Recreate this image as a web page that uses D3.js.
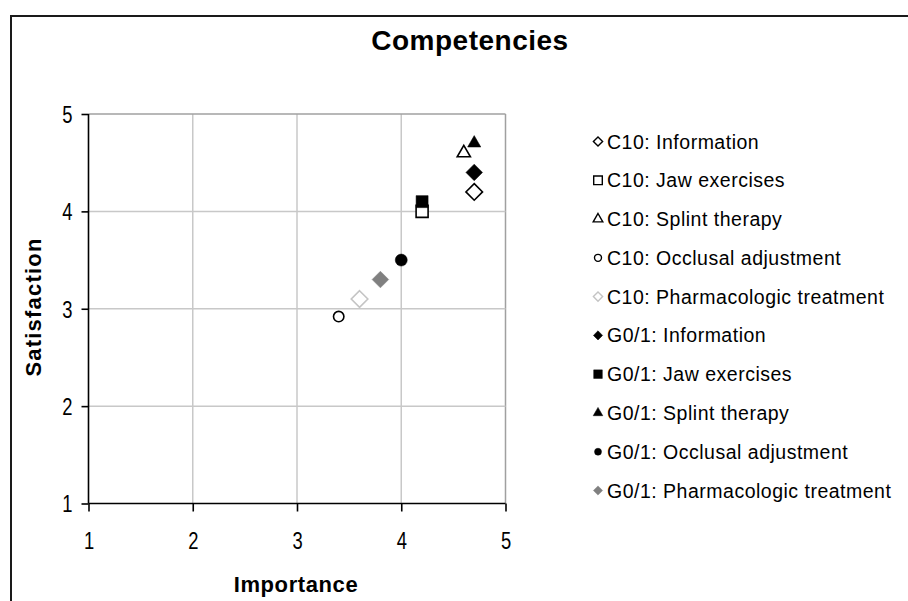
<!DOCTYPE html>
<html>
<head>
<meta charset="utf-8">
<script src="https://cdn.jsdelivr.net/npm/d3@7"></script>
<style>
  html, body { margin: 0; padding: 0; background: #fff; }
  svg { display: block; }
  text { font-family: "Liberation Sans", Arial, sans-serif; fill: #000; }
  .tick text { font-size: 23px; }
</style>
</head>
<body>
<svg id="chart" width="908" height="601"></svg>
<script>
// Importance vs. satisfaction ratings per treatment competency
const seriesNames = [
  "C10: Information",
  "C10: Jaw exercises",
  "C10: Splint therapy",
  "C10: Occlusal adjustment",
  "C10: Pharmacologic treatment",
  "G0/1: Information",
  "G0/1: Jaw exercises",
  "G0/1: Splint therapy",
  "G0/1: Occlusal adjustment",
  "G0/1: Pharmacologic treatment"
];
const importance   = [4.7, 4.2, 4.6, 3.4, 3.6, 4.7, 4.2, 4.7, 4.0, 3.8];
const satisfaction = [4.2, 4.0, 4.6, 2.92, 3.1, 4.4, 4.1, 4.7, 3.5, 3.3];
const xTicks = [1, 2, 3, 4, 5];
const yTicks = [1, 2, 3, 4, 5];

// marker style per series: shape, filled, colour
const markerShape = ["diamond", "square", "triangle", "circle", "diamond",
                     "diamond", "square", "triangle", "circle", "diamond"];
const markerFill  = [false, false, false, false, false, true, true, true, true, true];
const markerColor = ["#000", "#000", "#000", "#000", "#c4c4c4",
                     "#000", "#000", "#000", "#000", "#808080"];

const svg = d3.select("#chart");
svg.append("rect").attr("width", 908).attr("height", 601).attr("fill", "#fff");

// outer chart frame (runs past the right and bottom edges)
svg.append("path")
  .attr("d", "M11,640 L11,16 L960,16")
  .attr("fill", "none").attr("stroke", "#1a1a1a").attr("stroke-width", 2);

const plot = { left: 88.5, right: 505.5, top: 114, bottom: 503.5 };
const x = d3.scaleLinear().domain([1, 5]).range([plot.left, plot.right]);
const y = d3.scaleLinear().domain([1, 5]).range([plot.bottom, plot.top]);

// gridlines
const grid = svg.append("g");
grid.selectAll(".gx").data(xTicks.slice(1)).join("line")
  .attr("x1", d => x(d)).attr("x2", d => x(d))
  .attr("y1", plot.top).attr("y2", plot.bottom)
  .attr("stroke", d => d === 5 ? "#a0a0a0" : "#c8c8c8").attr("stroke-width", 1.5);
grid.selectAll(".gy").data(yTicks.slice(1)).join("line")
  .attr("x1", plot.left).attr("x2", plot.right)
  .attr("y1", d => y(d)).attr("y2", d => y(d))
  .attr("stroke", d => d === 5 ? "#a0a0a0" : "#c8c8c8").attr("stroke-width", 1.5);

// axes; tick digits are set tall and narrow
const squeeze = 0.8;
const xAxis = d3.axisBottom(x).tickValues(xTicks).tickSize(8).tickPadding(21).tickFormat(d3.format("d"));
const yAxis = d3.axisLeft(y).tickValues(yTicks).tickSize(7).tickPadding(13).tickFormat(d3.format("d"));

const gx = svg.append("g").attr("transform", `translate(0,${plot.bottom})`).call(xAxis);
const gy = svg.append("g").attr("transform", `translate(${plot.left},0)`).call(yAxis);
[gx, gy].forEach(g => {
  g.attr("font-size", 23).attr("font-family", "'Liberation Sans', Arial, sans-serif");
  g.select(".domain").attr("stroke", "#000").attr("stroke-width", 1.6);
  g.selectAll(".tick line").attr("stroke", "#000").attr("stroke-width", 1.6);
  g.selectAll(".tick text")
    .attr("font-size", 23).attr("fill", "#000")
    .attr("transform", `scale(${squeeze},1)`);
});
gy.selectAll(".tick text").attr("dy", "0.36em");
gy.select(".domain").attr("d", `M0,${plot.top}V${plot.bottom}`);
gx.select(".domain").attr("d", `M${plot.left},0H${plot.right}`);

// marker path builder
function markerPath(shape, s) {
  if (shape === "diamond") return `M0,${-s}L${s},0L0,${s}L${-s},0Z`;
  if (shape === "square") return `M${-s},${-s}H${s}V${s}H${-s}Z`;
  if (shape === "triangle") {
    const h = s * Math.sqrt(3);
    return `M0,${-h * 2 / 3}L${s},${h / 3}L${-s},${h / 3}Z`;
  }
  return d3.arc()({ innerRadius: 0, outerRadius: s, startAngle: 0, endAngle: 2 * Math.PI });
}
const plotSize = { diamond: 8.3, square: 6, triangle: 6.6, circle: 5.2 };
const legendSize = { diamond: 4.6, square: 4.3, triangle: 4.8, circle: 3.5 };

const idx = d3.range(seriesNames.length);

svg.append("g").selectAll("path").data(idx).join("path")
  .attr("transform", i => `translate(${x(importance[i])},${y(satisfaction[i])})`)
  .attr("d", i => markerPath(markerShape[i],
        markerShape[i] === "circle" && markerFill[i] ? 6 : plotSize[markerShape[i]]))
  .attr("fill", i => markerFill[i] ? markerColor[i] : "#fff")
  .attr("stroke", i => markerColor[i])
  .attr("stroke-width", i => markerFill[i] ? 0.5 : 1.6);

// axis titles
svg.append("text").attr("x", 296).attr("y", 592).attr("text-anchor", "middle")
  .style("font-size", "22px").style("font-weight", "bold").style("letter-spacing", "0.6px")
  .text("Importance");
svg.append("text").attr("transform", "translate(41,307) rotate(-90)").attr("text-anchor", "middle")
  .style("font-size", "22px").style("font-weight", "bold").style("letter-spacing", "1.2px")
  .text("Satisfaction");

// chart title
svg.append("text").attr("x", 470).attr("y", 50).attr("text-anchor", "middle")
  .style("font-size", "28px").style("font-weight", "bold").style("letter-spacing", "0.5px")
  .text("Competencies");

// legend
const legendY = d3.scaleLinear().domain([0, seriesNames.length - 1]).range([141.5, 490.5]);
const legend = svg.append("g").selectAll("g").data(idx).join("g")
  .attr("transform", i => `translate(598,${legendY(i)})`);
legend.append("path")
  .attr("d", i => markerPath(markerShape[i], legendSize[markerShape[i]]))
  .attr("fill", i => markerFill[i] ? markerColor[i] : "#fff")
  .attr("stroke", i => markerColor[i])
  .attr("stroke-width", i => markerFill[i] ? 0.5 : 1.4);
legend.append("text").attr("x", 9).attr("y", 7)
  .style("font-size", "19.5px").style("letter-spacing", "0.5px")
  .text(i => seriesNames[i]);
</script>
</body>
</html>
